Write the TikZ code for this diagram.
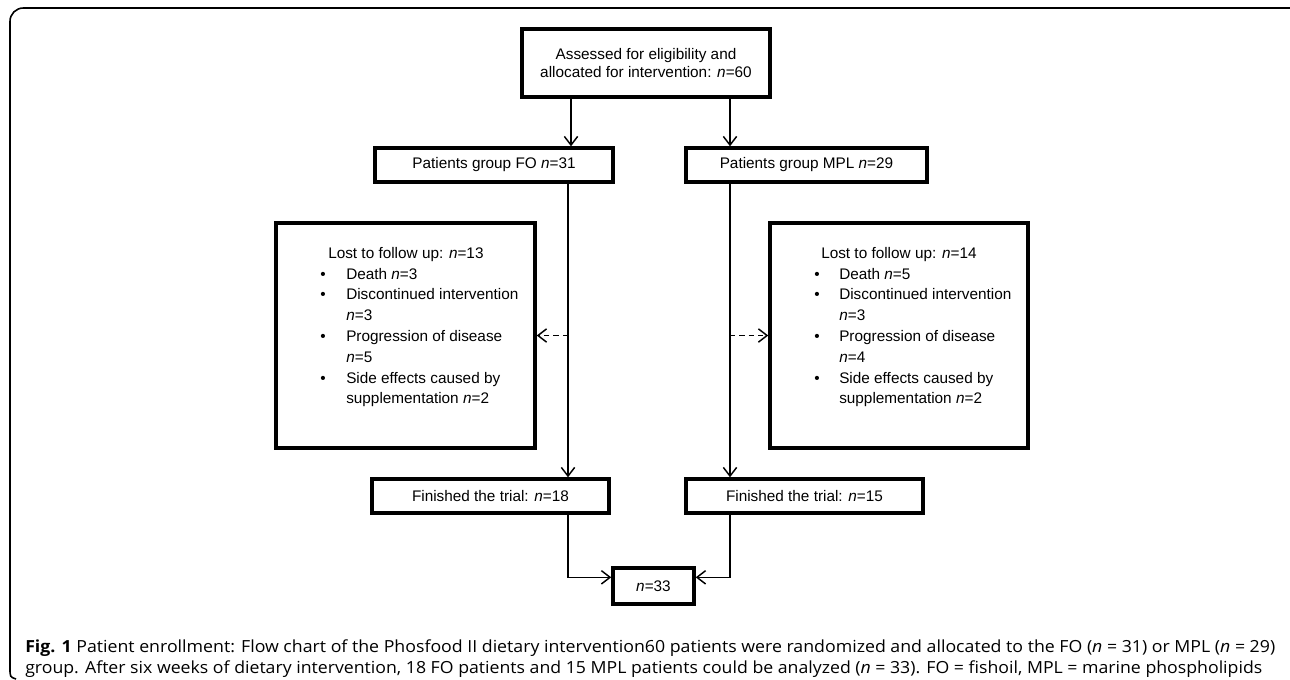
\documentclass[tikz,border=0pt]{standalone}
\usepackage{graphicx}
\usepackage{fontspec}
\setmainfont{Liberation Sans}
\newfontfamily\capfont{Open Sans}
\usetikzlibrary{arrows.meta,calc}
\begin{document}
\begin{tikzpicture}[x=0.75pt,y=-0.75pt,
  box/.style={draw,line width=2.6pt,inner sep=0pt,align=center,
    font=\fontsize{11.5}{13.5}\selectfont},
  listtxt/.style={inner sep=0pt,align=left,anchor=north west,
    font=\fontsize{11.5}{15.6}\selectfont},
  conn/.style={line width=1.1pt,-{Straight Barb[length=6.5pt,width=10pt,line width=1.1pt]}},
  dconn/.style={conn,dash pattern=on 4pt off 3pt},
  frame/.style={line width=1.2pt,rounded corners=10pt},
  captxt/.style={inner sep=0pt,anchor=base west,font=\capfont\fontsize{12.5}{14}\selectfont}]
\useasboundingbox (0,0) rectangle (1290,679);
\fill[white] (0,0) rectangle (1290,679);
\draw[frame] (10,668) -- (10,8) -- (1300,8);
\draw[line width=1.2pt] (10,668) .. controls (10,677) .. (16,679);

% boxes
\node[box,minimum width=186pt,minimum height=51pt] (top) at (646,63)
  {Assessed for eligibility and\\allocated for intervention: \textit{n}=60};
\node[box,minimum width=178.5pt,minimum height=25.5pt] (fo) at (494,165)
  {Patients group FO \textit{n}=31};
\node[box,minimum width=180.75pt,minimum height=25.5pt] (mpl) at (806.5,165)
  {Patients group MPL \textit{n}=29};
\node[box,minimum width=194.25pt,minimum height=168.75pt] (lostL) at (405.5,335.5) {};
\node[box,minimum width=193.5pt,minimum height=168.75pt] (lostR) at (899,335.5) {};
\node[box,minimum width=177.75pt,minimum height=25.5pt] (finFO) at (490.5,496)
  {Finished the trial: \textit{n}=18};
\node[box,minimum width=177.75pt,minimum height=25.5pt] (finMPL) at (804.5,496)
  {Finished the trial: \textit{n}=15};
\node[box,minimum width=60.75pt,minimum height=27pt] (tot) at (653.5,586)
  {\textit{n}=33};

% list texts
\node[listtxt] (lostLtxt) at (320,247) {%
  \hspace*{6pt}Lost to follow up: \textit{n}=13\\
  \makebox[19.5pt][l]{•}Death \textit{n}=3\\
  \makebox[19.5pt][l]{•}Discontinued intervention\\
  \hspace*{19.5pt}\textit{n}=3\\
  \makebox[19.5pt][l]{•}Progression of disease\\
  \hspace*{19.5pt}\textit{n}=5\\
  \makebox[19.5pt][l]{•}Side effects caused by\\
  \hspace*{19.5pt}supplementation \textit{n}=2};
\node[listtxt] (lostRtxt) at (814,247) {%
  \hspace*{5.25pt}Lost to follow up: \textit{n}=14\\
  \makebox[18.75pt][l]{•}Death \textit{n}=5\\
  \makebox[18.75pt][l]{•}Discontinued intervention\\
  \hspace*{18.75pt}\textit{n}=3\\
  \makebox[18.75pt][l]{•}Progression of disease\\
  \hspace*{18.75pt}\textit{n}=4\\
  \makebox[18.75pt][l]{•}Side effects caused by\\
  \hspace*{18.75pt}supplementation \textit{n}=2};

% coordinates of vertical lanes
\coordinate (xA) at (571,0);
\coordinate (xB) at (730,0);
\coordinate (xF) at (568,0);
\coordinate (xM) at (730,0);
\coordinate (jL) at ($(tot.north west)!0.28!(tot.south west)$);
\coordinate (jR) at ($(tot.north east)!0.28!(tot.south east)$);

% connectors
\draw[conn] (top.south -| xA) -- (fo.north -| xA);
\draw[conn] (top.south -| xB) -- (mpl.north -| xB);
\draw[conn] (fo.south -| xF) -- (finFO.north -| xF);
\draw[conn] (mpl.south -| xM) -- (finMPL.north -| xM);
\draw[dconn] (lostL.east -| xF) -- (lostL.east);
\draw[dconn] (lostR.west -| xM) -- (lostR.west);
\draw[conn] (finFO.south -| xF) |- (jL);
\draw[conn] (finMPL.south -| xM) |- (jR);

% caption
\node[captxt] (cap1) at (25,652) {\resizebox{937.5pt}{\height}{\textbf{Fig. 1} Patient enrollment: Flow chart of the Phosfood II dietary intervention60 patients were randomized and allocated to the FO (\textit{n} = 31) or MPL (\textit{n} = 29)}};
\node[captxt] (cap2) at (25,673) {\resizebox{927.75pt}{\height}{group. After six weeks of dietary intervention, 18 FO patients and 15 MPL patients could be analyzed (\textit{n} = 33). FO = fishoil, MPL = marine phospholipids}};
\end{tikzpicture}
\end{document}
